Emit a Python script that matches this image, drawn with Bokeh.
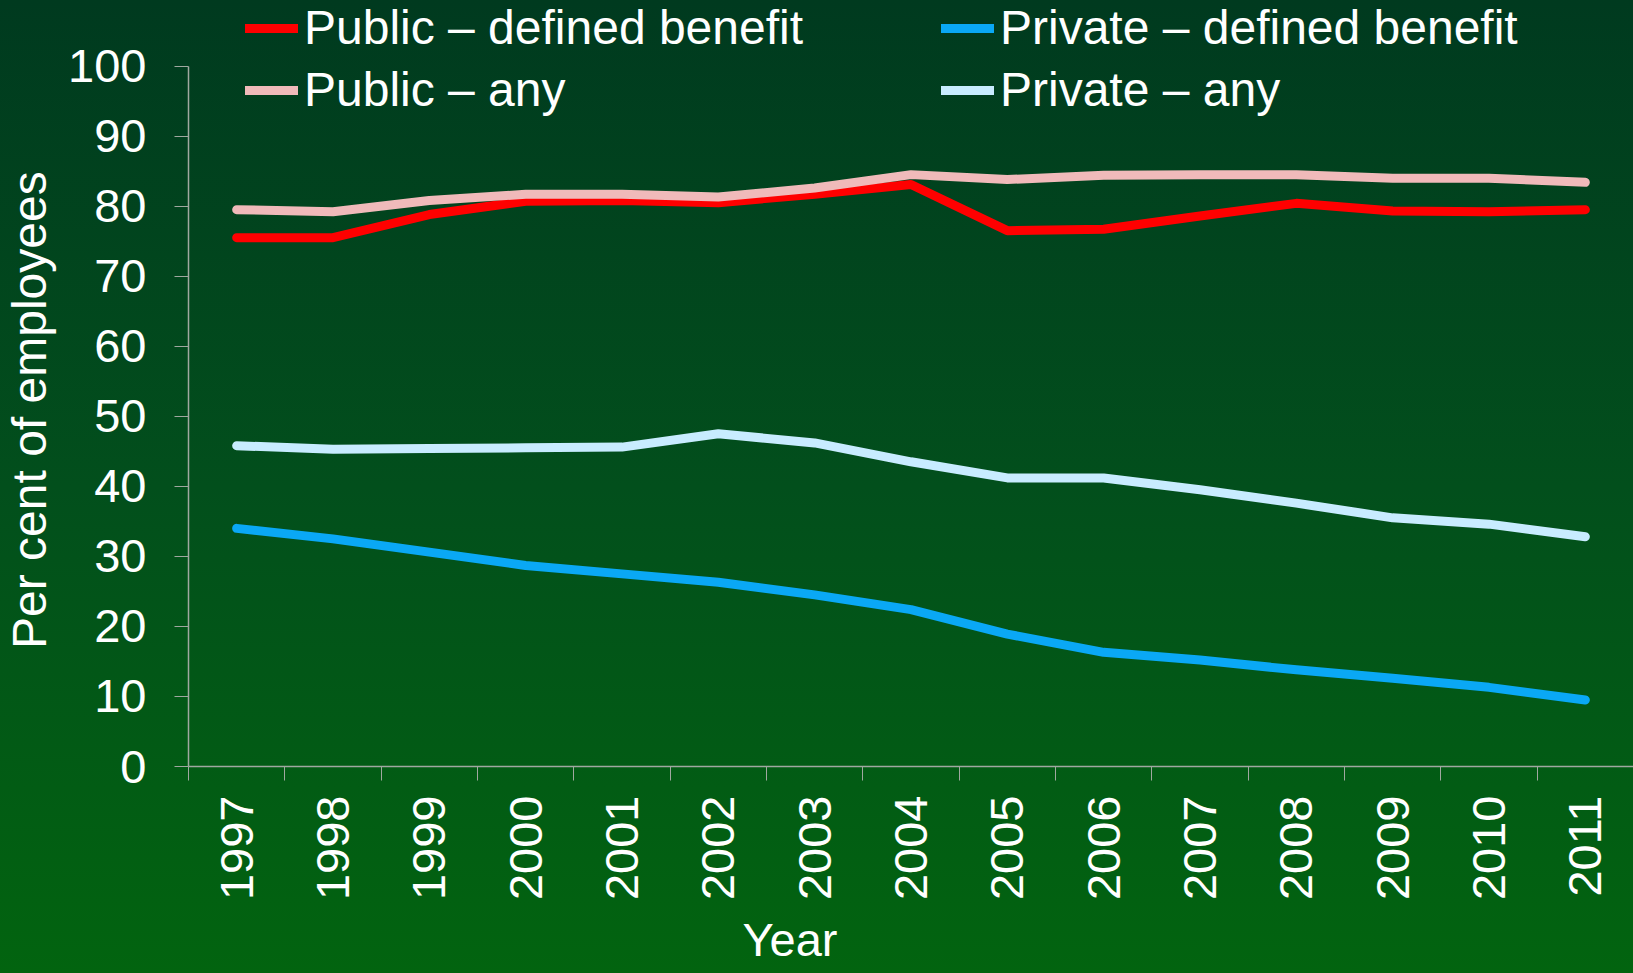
import math
from bokeh.plotting import figure
from bokeh.models import Range1d, FixedTicker, Legend, LegendItem, Title
from bokeh.embed import file_html
from bokeh.resources import INLINE

years = [1997, 1998, 1999, 2000, 2001, 2002, 2003, 2004, 2005, 2006, 2007, 2008, 2009, 2010, 2011]
public_db = [75.5, 75.5, 78.8, 80.7, 80.8, 80.5, 81.7, 83.1, 76.5, 76.7, 78.6, 80.4, 79.3, 79.2, 79.5]
private_db = [34.0, 32.5, 30.6, 28.7, 27.5, 26.3, 24.5, 22.4, 18.9, 16.3, 15.2, 13.8, 12.6, 11.3, 9.5]
public_any = [79.5, 79.2, 80.8, 81.7, 81.7, 81.3, 82.6, 84.5, 83.8, 84.4, 84.5, 84.5, 84.0, 84.0, 83.4]
private_any = [45.8, 45.3, 45.4, 45.5, 45.6, 47.5, 46.2, 43.5, 41.2, 41.2, 39.5, 37.6, 35.5, 34.6, 32.8]
y_ticks = [0, 10, 20, 30, 40, 50, 60, 70, 80, 90, 100]

FONT = "Liberation Sans"
AXIS_COLOR = "#a0a8a0"

p = figure(width=1633, height=973,
           x_range=Range1d(years[0] - 0.5, years[-1] + 0.5),
           y_range=Range1d(0, 109.36),
           output_backend="svg", toolbar_location=None,
           min_border_left=188, min_border_right=0, min_border_top=0, min_border_bottom=207)

p.background_fill_alpha = 0
p.border_fill_alpha = 0
p.outline_line_color = None
p.styles = {"background": "linear-gradient(180deg, #003a1f 0%, #024f1c 50%, #02640f 100%)"}
p.grid.visible = False

w = 9
r_pdb = p.line(years, public_db, line_color="#ff0000", line_width=w, line_cap="round", line_join="round")
r_vdb = p.line(years, private_db, line_color="#0aa8f5", line_width=w, line_cap="round", line_join="round")
r_pany = p.line(years, public_any, line_color="#f0baba", line_width=w, line_cap="round", line_join="round")
r_vany = p.line(years, private_any, line_color="#c8ecff", line_width=w, line_cap="round", line_join="round")

# x axis
xa = p.xaxis[0]
xa.ticker = FixedTicker(ticks=years, minor_ticks=[y - 0.5 for y in years] + [years[-1] + 0.5])
xa.major_label_overrides = {y: str(y) for y in years}
xa.major_label_orientation = math.pi / 2
xa.major_tick_out = 0
xa.major_tick_in = 0
xa.minor_tick_out = 14
xa.minor_tick_in = 0
xa.minor_tick_line_color = AXIS_COLOR
xa.axis_line_color = AXIS_COLOR
xa.axis_line_width = 1.5
xa.major_label_standoff = 15
xa.major_label_text_font = FONT
xa.major_label_text_font_size = "47px"
xa.major_label_text_color = "white"

# y axis
ya = p.yaxis[0]
ya.ticker = FixedTicker(ticks=y_ticks)
ya.bounds = (0, 100)
ya.major_tick_out = 14
ya.major_tick_in = 0
ya.minor_tick_out = 0
ya.minor_tick_in = 0
ya.major_tick_line_color = AXIS_COLOR
ya.axis_line_color = AXIS_COLOR
ya.axis_line_width = 1.5
ya.major_label_standoff = 28
ya.major_label_text_font = FONT
ya.major_label_text_font_size = "47px"
ya.major_label_text_color = "white"
ya.axis_label = "Per cent of employees\u00a0\u00a0\u00a0\u00a0"
ya.axis_label_text_font = FONT
ya.axis_label_text_font_size = "48px"
ya.axis_label_text_font_style = "normal"
ya.axis_label_text_color = "white"
ya.axis_label_standoff = 9

p.add_layout(Title(text="Year", align="left", offset=554, text_font=FONT, text_font_size="47px",
                   text_font_style="normal", text_color="white", standoff=14), "below")

def make_legend(items, x):
    lg = Legend(items=items, location=(x, 766.5 - 118), orientation="vertical",
                background_fill_alpha=0, border_line_color=None, padding=0, margin=0,
                spacing=6, label_height=56, glyph_height=56, glyph_width=53, label_standoff=6,
                label_text_font=FONT, label_text_font_size="48px", label_text_color="white")
    return lg

lg1 = make_legend([LegendItem(label="Public \u2013 defined benefit", renderers=[r_pdb]),
                   LegendItem(label="Public \u2013 any", renderers=[r_pany])], 57)
lg2 = make_legend([LegendItem(label="Private \u2013 defined benefit", renderers=[r_vdb]),
                   LegendItem(label="Private \u2013 any", renderers=[r_vany])], 753)
p.add_layout(lg1, "center")
p.add_layout(lg2, "center")

open("out.html", "w").write(file_html(p, INLINE))
